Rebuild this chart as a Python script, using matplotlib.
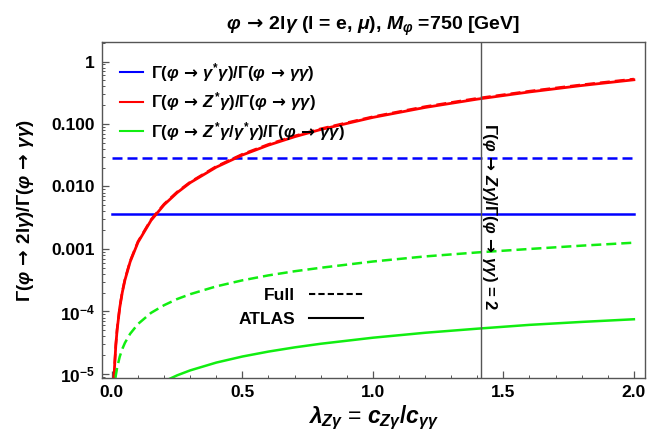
import numpy as np
import matplotlib
matplotlib.use('Agg')
import matplotlib.pyplot as plt
from matplotlib.lines import Line2D
from matplotlib.ticker import FixedLocator, FixedFormatter, LogLocator, NullFormatter, MultipleLocator

plt.rcParams['font.family'] = ['Liberation Sans', 'DejaVu Sans']
plt.rcParams['font.weight'] = 'bold'
plt.rcParams['mathtext.fontset'] = 'custom'
plt.rcParams['mathtext.rm'] = 'Liberation Sans:bold'
plt.rcParams['mathtext.it'] = 'Liberation Sans:bold:italic'
plt.rcParams['mathtext.bf'] = 'Liberation Sans:bold'
plt.rcParams['mathtext.sf'] = 'DejaVu Sans:bold'

# lambda_Zgamma grid and ratios
lam = [0.008, 0.01, 0.015, 0.02, 0.03, 0.04, 0.05, 0.07, 0.1, 0.15, 0.2, 0.25,
       0.3, 0.4, 0.5, 0.6, 0.7, 0.8, 1.0, 1.2, 1.4, 1.6, 1.8, 2.0]

red_atlas = [8.2e-6, 1.28e-5, 2.87e-5, 5.1e-5, 1.15e-4, 2.04e-4, 3.19e-4, 6.25e-4,
             1.28e-3, 2.87e-3, 5.1e-3, 7.97e-3, 0.0115, 0.0204, 0.0319, 0.0459,
             0.0625, 0.0816, 0.1275, 0.184, 0.25, 0.326, 0.413, 0.51]
red_full = [8.4e-6, 1.32e-5, 2.96e-5, 5.25e-5, 1.18e-4, 2.1e-4, 3.29e-4, 6.44e-4,
            1.32e-3, 2.96e-3, 5.25e-3, 8.2e-3, 0.0118, 0.021, 0.0329, 0.0473,
            0.0644, 0.084, 0.131, 0.19, 0.258, 0.336, 0.425, 0.525]

green_full = [5.0e-6, 6.3e-6, 9.5e-6, 1.26e-5, 1.89e-5, 2.52e-5, 3.15e-5, 4.4e-5,
              6.3e-5, 9.5e-5, 1.26e-4, 1.58e-4, 1.89e-4, 2.52e-4, 3.15e-4, 3.78e-4,
              4.4e-4, 5.0e-4, 6.3e-4, 7.6e-4, 8.8e-4, 1.0e-3, 1.13e-3, 1.26e-3]
green_atlas = [3.0e-7, 3.8e-7, 5.7e-7, 7.6e-7, 1.14e-6, 1.52e-6, 1.9e-6, 2.66e-6,
               3.8e-6, 5.7e-6, 7.6e-6, 9.5e-6, 1.14e-5, 1.52e-5, 1.9e-5, 2.28e-5,
               2.66e-5, 3.04e-5, 3.8e-5, 4.56e-5, 5.3e-5, 6.1e-5, 6.8e-5, 7.5e-5]

blue_range = [0.0, 2.0]
blue_full = 0.0284
blue_atlas = 0.00362

lam_line = np.sqrt(2)

ytick_vals = [1e-5, 1e-4, 1e-3, 1e-2, 1e-1, 1]
ytick_labels = [r'$\mathregular{10^{-5}}$', r'$\mathregular{10^{-4}}$', '0.001', '0.010', '0.100', '1']

AR = r'\,\mathsf{\rightarrow}\,'
GREEN = '#11ee11'

fig = plt.figure(figsize=(6.58, 4.41), dpi=100)
ax = fig.add_axes([0.155, 0.143, 0.825, 0.761])

ax.plot(blue_range, [blue_full, blue_full], color='blue', lw=1.8, dashes=(4, 2))
ax.plot(blue_range, [blue_atlas, blue_atlas], color='blue', lw=1.8)
ax.plot(lam, red_atlas, color='red', lw=2.0)
ax.plot(lam, red_full, color='red', lw=1.8, dashes=(4, 2))
ax.plot(lam, green_full, color=GREEN, lw=1.8, dashes=(4, 2))
ax.plot(lam, green_atlas, color=GREEN, lw=1.8)
ax.axvline(lam_line, color='#555555', lw=1.0)

ax.set_yscale('log')
ax.set_xlim(-0.038, 2.042)
ax.set_ylim(10**-5.064, 10**0.307)

ax.yaxis.set_major_locator(FixedLocator(ytick_vals))
ax.yaxis.set_major_formatter(FixedFormatter(ytick_labels))
ax.yaxis.set_minor_locator(LogLocator(base=10, subs=np.arange(2, 10)))
ax.yaxis.set_minor_formatter(NullFormatter())
ax.xaxis.set_major_locator(MultipleLocator(0.5))
ax.xaxis.set_minor_locator(MultipleLocator(0.1))
ax.xaxis.set_major_formatter(matplotlib.ticker.FormatStrFormatter('%.1f'))

ax.tick_params(which='both', direction='in', top=False, right=False, labelsize=12.5,
               color='#555555')
ax.tick_params(which='major', length=5, width=0.9, pad=5)
ax.tick_params(which='minor', length=2.5, width=0.7)
for sp in ax.spines.values():
    sp.set_color('#555555')
    sp.set_linewidth(1.0)

ax.set_title(r'$\varphi' + AR + r'\mathrm{2l}\gamma$ (l = e, $\mu$), $M_{\varphi}$ =750 [GeV]',
             fontsize=14, fontweight='bold', pad=9)
ax.set_xlabel(r'$\lambda_{Z\gamma}$ = $c_{Z\gamma}/c_{\gamma\gamma}$', fontsize=16.5, labelpad=3)
ax.set_ylabel(r'$\Gamma(\varphi' + AR + r'\mathrm{2l}\gamma)/\Gamma(\varphi' + AR + r'\gamma\gamma)$',
              fontsize=13.5, labelpad=11)

handles1 = [Line2D([], [], color='blue', lw=1.5),
            Line2D([], [], color='red', lw=1.5),
            Line2D([], [], color=GREEN, lw=1.5)]
labels1 = [r'$\Gamma(\varphi' + AR + r'\gamma^{*}\gamma)/\Gamma(\varphi' + AR + r'\gamma\gamma)$',
           r'$\Gamma(\varphi' + AR + r'Z^{*}\gamma)/\Gamma(\varphi' + AR + r'\gamma\gamma)$',
           r'$\Gamma(\varphi' + AR + r'Z^{*}\gamma/\gamma^{*}\gamma)/\Gamma(\varphi' + AR + r'\gamma\gamma)$']
leg1 = ax.legend(handles1, labels1, loc='upper left', bbox_to_anchor=(0.0, 1.0),
                 frameon=False, fontsize=12, handlelength=1.35, handletextpad=0.5,
                 labelspacing=0.4, borderaxespad=0.7)
ax.add_artist(leg1)

handles2 = [Line2D([], [], color='black', lw=1.5, dashes=(3, 1.5)),
            Line2D([], [], color='black', lw=1.5)]
leg2 = ax.legend(handles2, ['Full', 'ATLAS'], loc='center', bbox_to_anchor=(0.366, 0.21),
                 frameon=False, fontsize=12.5, markerfirst=False, handlelength=3.1,
                 handletextpad=0.8, labelspacing=0.55)

ax.text(0.713, 0.481, r'$\Gamma(\varphi' + AR + r'Z\gamma)/\Gamma(\varphi' + AR + r'\gamma\gamma)$ = 2',
        transform=ax.transAxes, rotation=-90, ha='center', va='center', fontsize=12)

fig.savefig('out.png', dpi=100)
